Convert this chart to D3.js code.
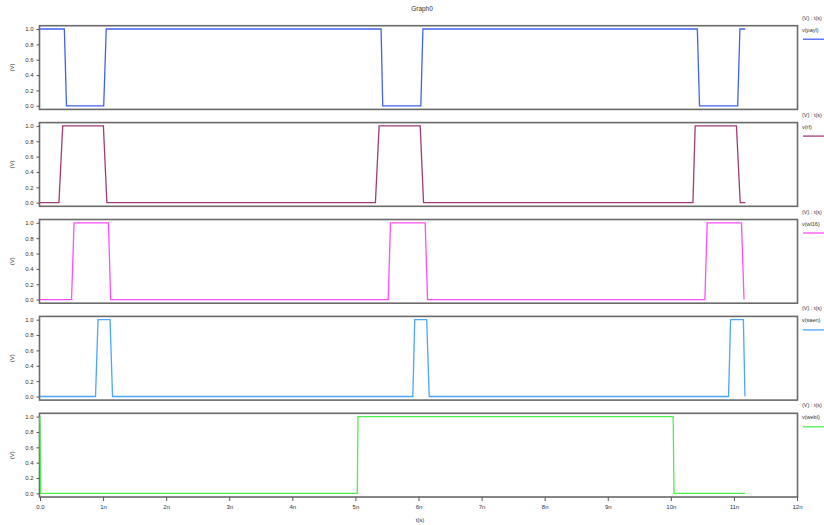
<!DOCTYPE html>
<html>
<head>
<meta charset="utf-8">
<script src="https://cdn.jsdelivr.net/npm/d3@7"></script>
<style>
  html, body { margin: 0; padding: 0; background: #fff; }
  svg { display: block; font-family: "Liberation Sans", Arial, sans-serif; }
</style>
</head>
<body>
<svg id="chart" width="824" height="525"></svg>
<script>
// ---- data (time in ns, value in V) ----
const seriesNames = ["v(payl)", "v(rf)", "v(wl16)", "v(saen)", "v(webl)"];
const seriesColors = ["#4262ee", "#a33a76", "#ff4cff", "#4aa6ff", "#4cf04c"];

const payloadT = [0, 0.386, 0.42, 1.01, 1.05, 5.407, 5.433, 6.037, 6.07, 10.42, 10.455, 11.06, 11.095, 11.18];
const payloadV = [1, 1, 0, 0, 1, 1, 0, 0, 1, 1, 0, 0, 1, 1];

const rfT = [0, 0.30, 0.36, 1.005, 1.06, 5.317, 5.376, 6.027, 6.08, 10.35, 10.386, 11.04, 11.10, 11.18];
const rfV = [0, 0, 1, 1, 0, 0, 1, 1, 0, 0, 1, 1, 0, 0];

const wlT = [0, 0.50, 0.54, 1.085, 1.12, 5.52, 5.556, 6.106, 6.143, 10.54, 10.576, 11.12, 11.16];
const wlV = [0, 0, 1, 1, 0, 0, 1, 1, 0, 0, 1, 1, 0];

const saenT = [0, 0.88, 0.92, 1.11, 1.15, 5.91, 5.94, 6.13, 6.17, 10.915, 10.947, 11.15, 11.175];
const saenV = [0, 0, 1, 1, 0, 0, 1, 1, 0, 0, 1, 1, 0];

const weblT = [0, 0.01, 5.03, 5.04, 10.037, 10.05, 11.18];
const weblV = [1, 0, 0, 1, 1, 0, 0];

const seriesT = [payloadT, rfT, wlT, saenT, weblT];
const seriesV = [payloadV, rfV, wlV, saenV, weblV];

const yTicks = [0, 0.2, 0.4, 0.6, 0.8, 1.0];
const xTicks = [0, 1, 2, 3, 4, 5, 6, 7, 8, 9, 10, 11, 12];
const xTickLabels = ["0.0", "1n", "2n", "3n", "4n", "5n", "6n", "7n", "8n", "9n", "10n", "11n", "12n"];

// ---- layout ----
const svg = d3.select("#chart");
const left = 39.5, right = 797.5;
const panelTop0 = 25.7, panelStep = 96.9, panelH = 83.7;

const x = d3.scaleLinear().domain([0, 12]).range([left + 0.5, right - 0.5]);

svg.append("text")
  .attr("x", 422).attr("y", 11)
  .attr("text-anchor", "middle")
  .attr("font-size", 6.5).attr("fill", "#333")
  .text("Graph0");

seriesNames.forEach((name, i) => {
  const top = panelTop0 + i * panelStep;
  const bottom = top + panelH;
  const y = d3.scaleLinear().domain([-0.047, 1.043]).range([bottom, top]);
  const g = svg.append("g");

  // frame
  g.append("rect")
    .attr("x", left).attr("y", top)
    .attr("width", right - left).attr("height", panelH)
    .attr("fill", "none").attr("stroke", "#6a6a6a").attr("stroke-width", 1.6);

  // y axis
  const yAxis = d3.axisLeft(y).tickValues(yTicks).tickFormat(d3.format(".1f")).tickSize(3).tickPadding(3);
  const ya = g.append("g").attr("transform", `translate(${left},0)`).call(yAxis);
  ya.select(".domain").remove();
  ya.selectAll("line").attr("stroke", "#555");
  ya.selectAll("text").attr("font-size", 6).attr("fill", "#333")
    .attr("font-family", "'Liberation Sans', Arial, sans-serif");

  g.append("text")
    .attr("transform", `translate(14,${(top + bottom) / 2}) rotate(-90)`)
    .attr("text-anchor", "middle")
    .attr("font-size", 6).attr("fill", "#333")
    .text("(V)");

  // waveform
  const pts = seriesT[i].map((t, k) => [t, seriesV[i][k]]);
  g.append("path")
    .datum(pts)
    .attr("fill", "none")
    .attr("stroke", seriesColors[i])
    .attr("stroke-width", 1.3)
    .attr("d", d3.line().x(d => x(d[0])).y(d => y(d[1])));

  // legend
  g.append("text")
    .attr("x", 802).attr("y", top - 6)
    .attr("font-size", 5.5).attr("fill", "#333")
    .text("(V) : t(s)");
  g.append("text")
    .attr("x", 802).attr("y", top + 6)
    .attr("font-size", 5.5).attr("fill", "#333")
    .text(name);
  g.append("line")
    .attr("x1", 803).attr("x2", 826)
    .attr("y1", top + 13.5).attr("y2", top + 13.5)
    .attr("stroke", seriesColors[i]).attr("stroke-width", 1.3);

  // x axis only on last panel
  if (i === seriesNames.length - 1) {
    const xAxis = d3.axisBottom(x).tickValues(xTicks)
      .tickFormat((d, k) => xTickLabels[k]).tickSize(4).tickPadding(4);
    const xa = g.append("g").attr("transform", `translate(0,${bottom})`).call(xAxis);
    xa.select(".domain").remove();
    xa.selectAll("line").attr("stroke", "#555");
    xa.selectAll("text").attr("font-size", 6).attr("fill", "#333")
      .attr("font-family", "'Liberation Sans', Arial, sans-serif");
    svg.append("text")
      .attr("x", 420).attr("y", 522)
      .attr("text-anchor", "middle")
      .attr("font-size", 6).attr("fill", "#333")
      .text("t(s)");
  }
});
</script>
</body>
</html>
